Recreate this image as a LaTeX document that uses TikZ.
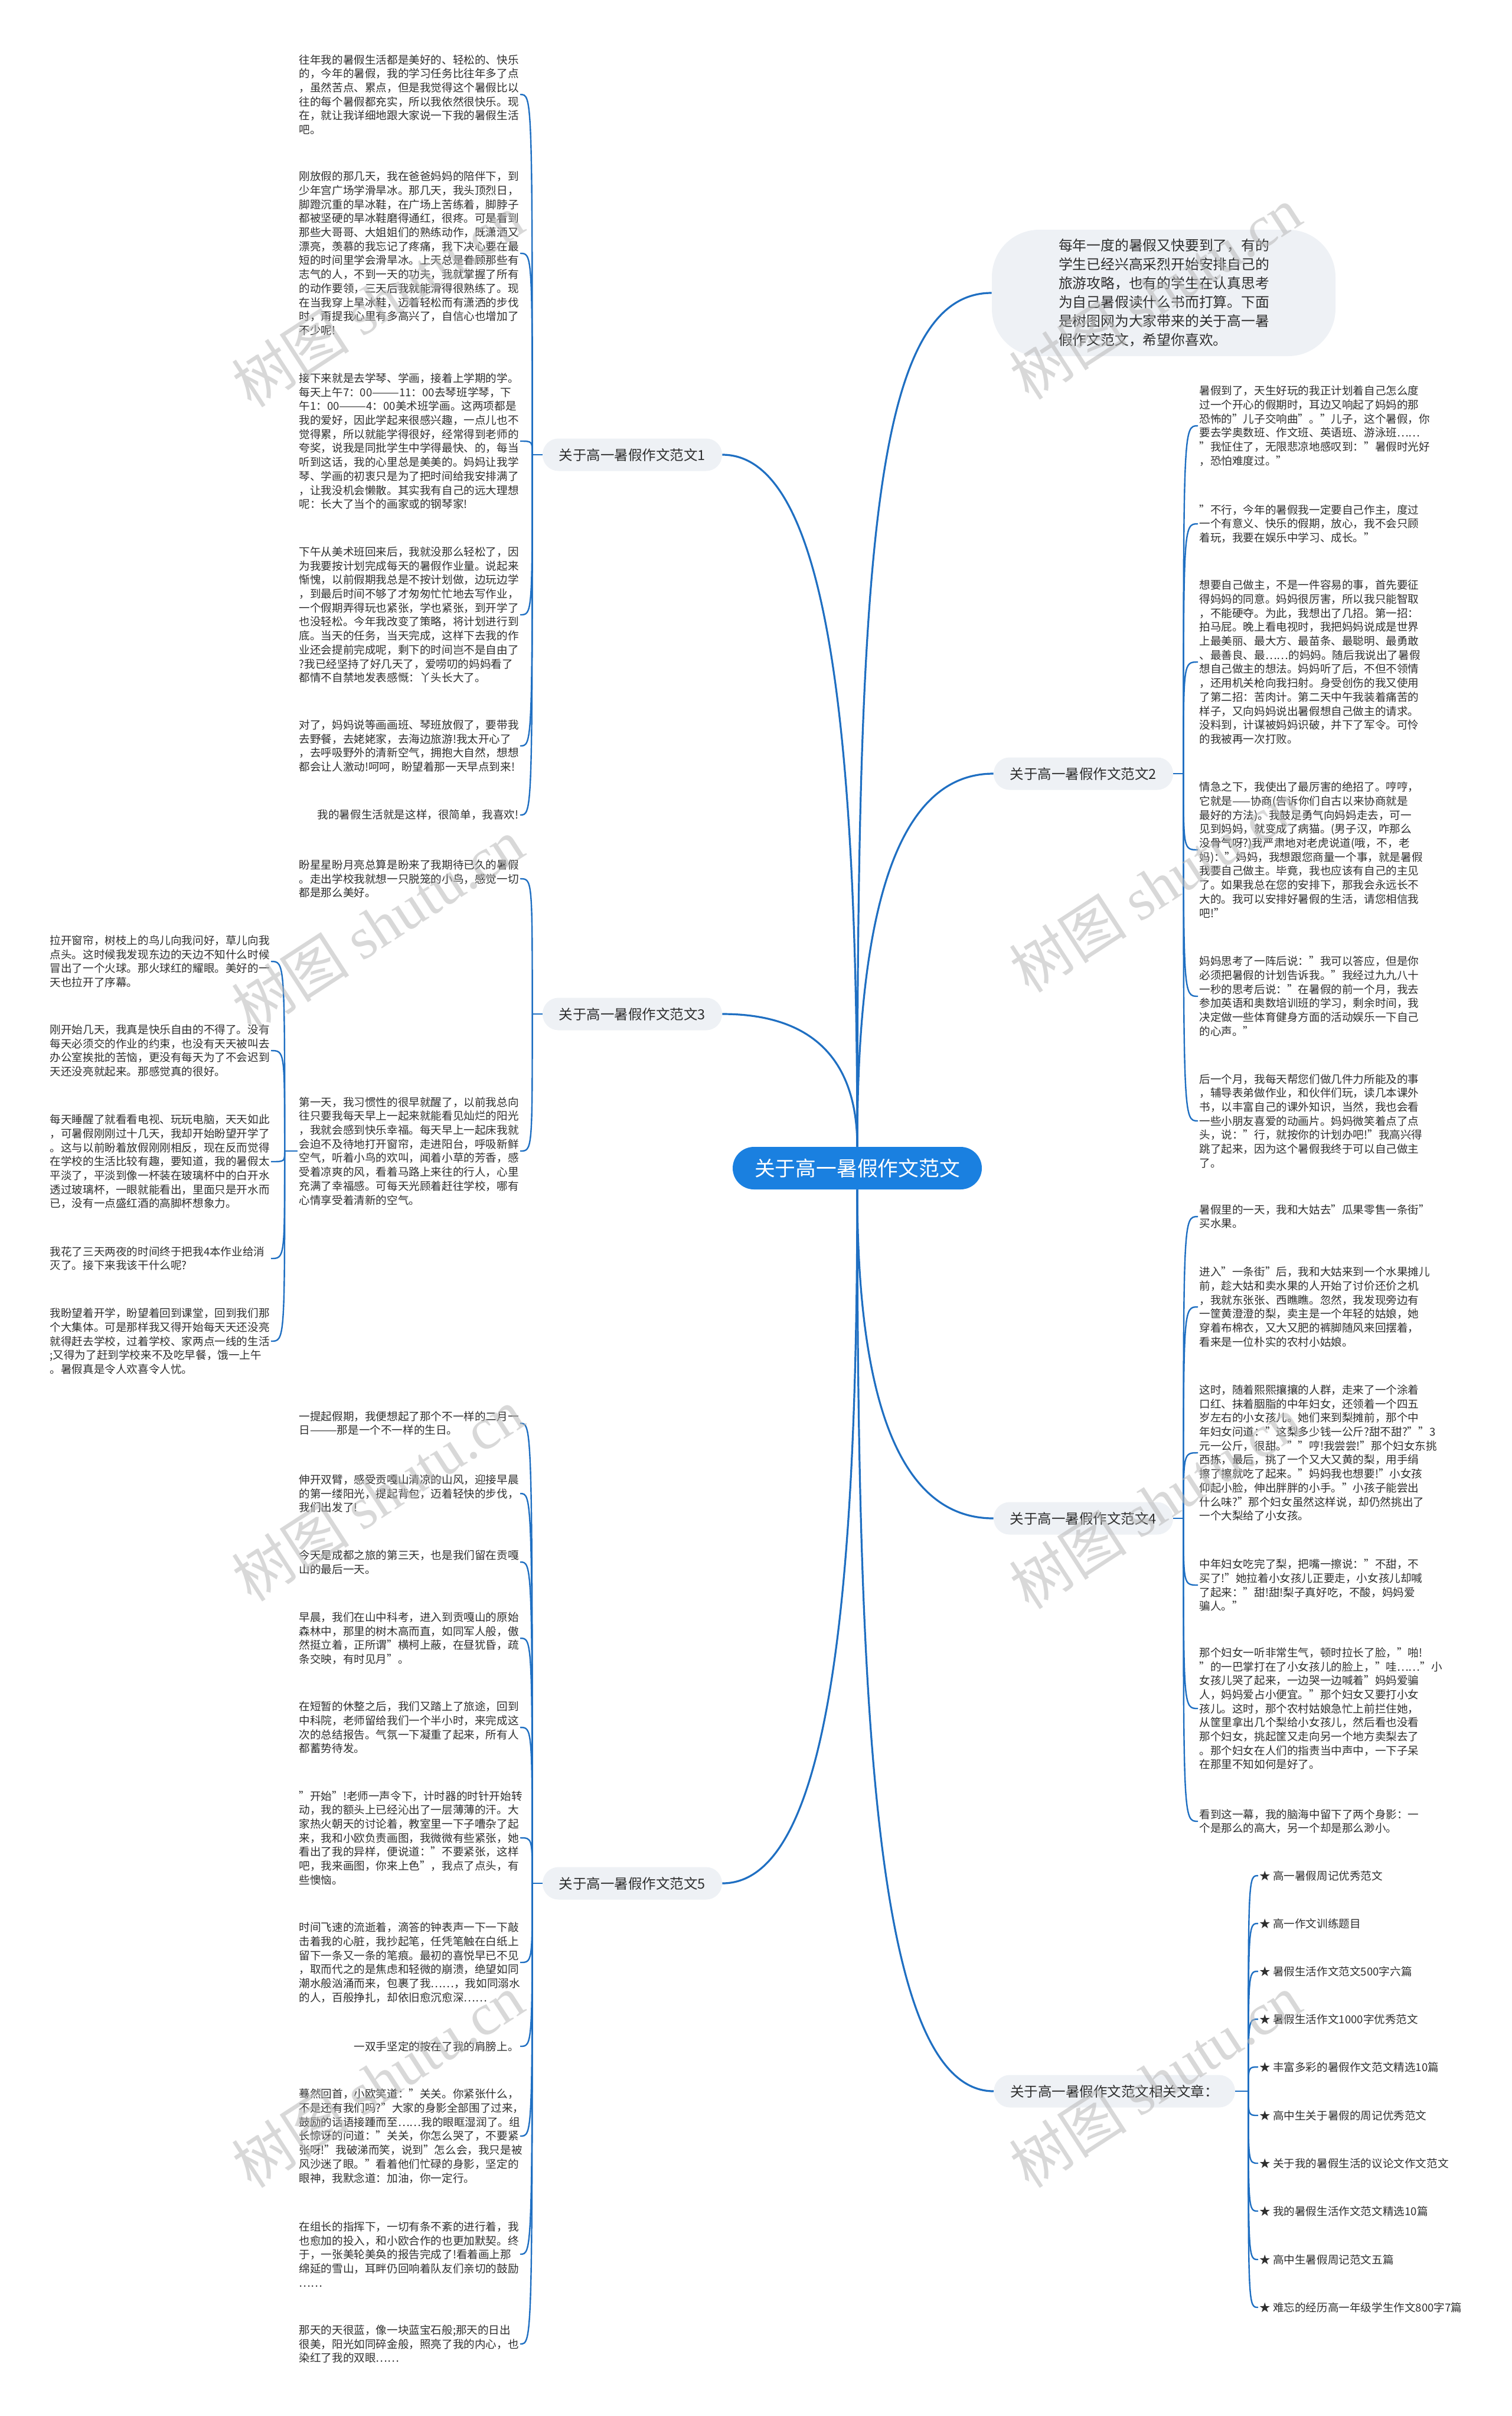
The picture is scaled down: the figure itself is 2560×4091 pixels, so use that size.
\documentclass[tikz,border=0pt]{standalone}
\usepackage{fontspec}
\setmainfont{Noto Sans CJK SC}
\newfontfamily\wmlatin{Liberation Serif}
\usepackage{tikz}
\usetikzlibrary{calc,positioning}
\definecolor{rootblue}{HTML}{1A80E0}
\definecolor{linkblue}{HTML}{1F6FC2}
\definecolor{boxgray}{HTML}{EEF1F5}
\definecolor{txtgray}{HTML}{2E2E2E}
\definecolor{markgray}{HTML}{B8B8B8}

\begin{document}
\begin{tikzpicture}[x=0.5pt,y=-0.5pt,
        conn/.style={draw=linkblue,line width=1.2pt},
        stem/.style={draw=linkblue,line width=1.6pt},
        para/.style={font=\fontsize{9.3}{11.85}\selectfont,text=txtgray,text width=186pt,align=left,inner sep=1pt},
        oneline/.style={font=\fontsize{9.3}{11.85}\selectfont,text=txtgray,inner sep=1pt},
        branch/.style={fill=boxgray,rounded corners=13.5pt,minimum height=27.5pt,inner xsep=14pt,font=\fontsize{11.75}{14}\selectfont,text=txtgray},
        wmark/.style={text=markgray,text opacity=0.55,rotate=33,font=\fontsize{50}{50}\selectfont}]
        \useasboundingbox (0,0) rectangle (2560,4091);
        \tikzstyle{lefty}=[para,anchor=east]
        \tikzstyle{righty}=[para,anchor=west]

        \node[fill=rootblue,text=white,rounded corners=18pt,minimum height=36pt,inner xsep=18.5pt,font=\fontsize{17.4}{20}\selectfont](root) at (1452,1978){关于高一暑假作文范文};

        \node[fill=boxgray,rounded corners=40pt,text width=178pt,inner xsep=56.5pt,minimum height=107pt,align=left,text=txtgray,font=\fontsize{11.9}{16}\selectfont](intro) at (1971,496){每年一度的暑假又快要到了，有的\\学生已经兴高采烈开始安排自己的\\旅游攻略，也有的学生在认真思考\\为自己暑假读什么书而打算。下面\\是树图网为大家带来的关于高一暑\\假作文范文，希望你喜欢。};

        \node[branch](lab1) at (1071,770){关于高一暑假作文范文1};
        \node[branch](lab3) at (1071,1717){关于高一暑假作文范文3};
        \node[branch](lab5) at (1071,3189){关于高一暑假作文范文5};
        \node[branch](lab2) at (1835,1310){关于高一暑假作文范文2};
        \node[branch](lab4) at (1835,2571){关于高一暑假作文范文4};
        \node[branch,anchor=west](rel) at (1683,3541){关于高一暑假作文范文相关文章：};

        \node[lefty](p1a) at (881,160){往年我的暑假生活都是美好的、轻松的、快乐\\的，今年的暑假，我的学习任务比往年多了点\\，虽然苦点、累点，但是我觉得这个暑假比以\\往的每个暑假都充实，所以我依然很快乐。现\\在，就让我详细地跟大家说一下我的暑假生活\\吧。};
        \node[lefty](p1b) at (881,429){刚放假的那几天，我在爸爸妈妈的陪伴下，到\\少年宫广场学滑旱冰。那几天，我头顶烈日，\\脚蹬沉重的旱冰鞋，在广场上苦练着，脚脖子\\都被坚硬的旱冰鞋磨得通红，很疼。可是看到\\那些大哥哥、大姐姐们的熟练动作，既潇洒又\\漂亮，羡慕的我忘记了疼痛，我下决心要在最\\短的时间里学会滑旱冰。上天总是眷顾那些有\\志气的人，不到一天的功夫，我就掌握了所有\\的动作要领，三天后我就能滑得很熟练了。现\\在当我穿上旱冰鞋，迈着轻松而有潇洒的步伐\\时，甭提我心里有多高兴了，自信心也增加了\\不少呢!};
        \node[lefty](p1c) at (881,747){接下来就是去学琴、学画，接着上学期的学。\\\mbox{每天上午7：00———11：00去琴班学琴，下}\\\mbox{午1：00———4：00美术班学画。这两项都是}\\我的爱好，因此学起来很感兴趣，一点儿也不\\觉得累，所以就能学得很好，经常得到老师的\\夸奖，说我是同批学生中学得最快、的，每当\\听到这话，我的心里总是美美的。妈妈让我学\\琴、学画的初衷只是为了把时间给我安排满了\\，让我没机会懒散。其实我有自己的远大理想\\呢：长大了当个的画家或的钢琴家!};
        \node[lefty](p1d) at (881,1041){下午从美术班回来后，我就没那么轻松了，因\\为我要按计划完成每天的暑假作业量。说起来\\惭愧，以前假期我总是不按计划做，边玩边学\\，到最后时间不够了才匆匆忙忙地去写作业，\\一个假期弄得玩也紧张，学也紧张，到开学了\\也没轻松。今年我改变了策略，将计划进行到\\底。当天的任务，当天完成，这样下去我的作\\业还会提前完成呢，剩下的时间岂不是自由了\\?我已经坚持了好几天了，爱唠叨的妈妈看了\\都情不自禁地发表感慨：丫头长大了。};
        \node[lefty](p1e) at (881,1263){对了，妈妈说等画画班、琴班放假了，要带我\\去野餐，去姥姥家，去海边旅游!我太开心了\\，去呼吸野外的清新空气，拥抱大自然，想想\\都会让人激动!呵呵，盼望着那一天早点到来!};
        \node[oneline,anchor=east](p1f) at (881,1380){我的暑假生活就是这样，很简单，我喜欢!};

        \node[lefty](p3a) at (881,1488){盼星星盼月亮总算是盼来了我期待已久的暑假\\。走出学校我就想一只脱笼的小鸟，感觉一切\\都是那么美好。};
        \node[lefty](p3b) at (881,1949){第一天，我习惯性的很早就醒了，以前我总向\\往只要我每天早上一起来就能看见灿烂的阳光\\，我就会感到快乐幸福。每天早上一起床我就\\会迫不及待地打开窗帘，走进阳台，呼吸新鲜\\空气，听着小鸟的欢叫，闻着小草的芳香，感\\受着凉爽的风，看着马路上来往的行人，心里\\充满了幸福感。可每天光顾着赶往学校，哪有\\心情享受着清新的空气。};
        \node[lefty](q1) at (459,1628){拉开窗帘，树枝上的鸟儿向我问好，草儿向我\\点头。这时候我发现东边的天边不知什么时候\\冒出了一个火球。那火球红的耀眼。美好的一\\天也拉开了序幕。};
        \node[lefty](q2) at (459,1779){刚开始几天，我真是快乐自由的不得了。没有\\每天必须交的作业的约束，也没有天天被叫去\\办公室挨批的苦恼，更没有每天为了不会迟到\\天还没亮就起来。那感觉真的很好。};
        \node[lefty](q3) at (459,1967){每天睡醒了就看看电视、玩玩电脑，天天如此\\，可暑假刚刚过十几天，我却开始盼望开学了\\。这与以前盼着放假刚刚相反，现在反而觉得\\在学校的生活比较有趣，要知道，我的暑假太\\平淡了，平淡到像一杯装在玻璃杯中的白开水\\透过玻璃杯，一眼就能看出，里面只是开水而\\已，没有一点盛红酒的高脚杯想象力。};
        \node[lefty](q4) at (459,2131){我花了三天两夜的时间终于把我4本作业给消\\灭了。接下来我该干什么呢?};
        \node[lefty](q5) at (459,2271){我盼望着开学，盼望着回到课堂，回到我们那\\个大集体。可是那样我又得开始每天天还没亮\\就得赶去学校，过着学校、家两点一线的生活\\;又得为了赶到学校来不及吃早餐，饿一上午\\。暑假真是令人欢喜令人忧。};

        \node[lefty](p5a) at (881,2410){一提起假期，我便想起了那个不一样的二月一\\日———那是一个不一样的生日。};
        \node[lefty](p5b) at (881,2529){伸开双臂，感受贡嘎山清凉的山风，迎接早晨\\的第一缕阳光，提起背包，迈着轻快的步伐，\\我们出发了!};
        \node[lefty](p5c) at (881,2645){今天是成都之旅的第三天，也是我们留在贡嘎\\山的最后一天。};
        \node[lefty](p5d) at (881,2774){早晨，我们在山中科考，进入到贡嘎山的原始\\森林中，那里的树木高而直，如同军人般，傲\\然挺立着，正所谓"横柯上蔽，在昼犹昏，疏\\条交映，有时见月"。};
        \node[lefty](p5e) at (881,2925){在短暂的休整之后，我们又踏上了旅途，回到\\中科院，老师留给我们一个半小时，来完成这\\次的总结报告。气氛一下凝重了起来，所有人\\都蓄势待发。};
        \node[lefty](p5f) at (881,3112){"开始"!老师一声令下，计时器的时针开始转\\动，我的额头上已经沁出了一层薄薄的汗。大\\家热火朝天的讨论着，教室里一下子嘈杂了起\\来，我和小欧负责画图，我微微有些紧张，她\\看出了我的异样，便说道："不要紧张，这样\\吧，我来画图，你来上色"，我点了点头，有\\些懊恼。};
        \node[lefty](p5g) at (881,3323){时间飞速的流逝着，滴答的钟表声一下一下敲\\击着我的心脏，我抄起笔，任凭笔触在白纸上\\留下一条又一条的笔痕。最初的喜悦早已不见\\，取而代之的是焦虑和轻微的崩溃，绝望如同\\潮水般汹涌而来，包裹了我……，我如同溺水\\的人，百般挣扎，却依旧愈沉愈深……};
        \node[oneline,anchor=east](p5h) at (881,3465){一双手坚定的按在了我的肩膀上。};
        \node[lefty](p5i) at (881,3617){蓦然回首，小欧笑道："关关。你紧张什么，\\不是还有我们吗?"大家的身影全部围了过来，\\鼓励的话语接踵而至……我的眼眶湿润了。组\\长惊讶的问道："关关，你怎么哭了，不要紧\\张呀!"我破涕而笑，说到"怎么会，我只是被\\风沙迷了眼。"看着他们忙碌的身影，坚定的\\眼神，我默念道：加油，你一定行。};
        \node[lefty](p5j) at (881,3817){在组长的指挥下，一切有条不紊的进行着，我\\也愈加的投入，和小欧合作的也更加默契。终\\于，一张美轮美奂的报告完成了!看着画上那\\绵延的雪山，耳畔仍回响着队友们亲切的鼓励\\……};
        \node[lefty](p5k) at (881,3969){那天的天很蓝，像一块蓝宝石般;那天的日出\\很美，阳光如同碎金般，照亮了我的内心，也\\染红了我的双眼……};

        \node[righty](p2a) at (2029,721){暑假到了，天生好玩的我正计划着自己怎么度\\过一个开心的假期时，耳边又响起了妈妈的那\\恐怖的"儿子交响曲"。"儿子，这个暑假，你\\要去学奥数班、作文班、英语班、游泳班……\\"我怔住了，无限悲凉地感叹到："暑假时光好\\，恐怕难度过。"};
        \node[righty](p2b) at (2029,887){"不行，今年的暑假我一定要自己作主，度过\\一个有意义、快乐的假期，放心，我不会只顾\\着玩，我要在娱乐中学习、成长。"};
        \node[righty](p2c) at (2029,1121){想要自己做主，不是一件容易的事，首先要征\\得妈妈的同意。妈妈很厉害，所以我只能智取\\，不能硬夺。为此，我想出了几招。第一招：\\拍马屁。晚上看电视时，我把妈妈说成是世界\\上最美丽、最大方、最苗条、最聪明、最勇敢\\、最善良、最……的妈妈。随后我说出了暑假\\想自己做主的想法。妈妈听了后，不但不领情\\，还用机关枪向我扫射。身受创伤的我又使用\\了第二招：苦肉计。第二天中午我装着痛苦的\\样子，又向妈妈说出暑假想自己做主的请求。\\没料到，计谋被妈妈识破，并下了军令。可怜\\的我被再一次打败。};
        \node[righty](p2d) at (2029,1439){情急之下，我使出了最厉害的绝招了。哼哼，\\\mbox{它就是——协商(告诉你们自古以来协商就是}\\最好的方法)。我鼓足勇气向妈妈走去，可一\\见到妈妈，就变成了病猫。(男子汉，咋那么\\没骨气呀?)我严肃地对老虎说道(哦，不，老\\妈)："妈妈，我想跟您商量一个事，就是暑假\\我要自己做主。毕竟，我也应该有自己的主见\\了。如果我总在您的安排下，那我会永远长不\\大的。我可以安排好暑假的生活，请您相信我\\吧!"};
        \node[righty](p2e) at (2029,1687){妈妈思考了一阵后说："我可以答应，但是你\\必须把暑假的计划告诉我。"我经过九九八十\\一秒的思考后说："在暑假的前一个月，我去\\参加英语和奥数培训班的学习，剩余时间，我\\决定做一些体育健身方面的活动娱乐一下自己\\的心声。"};
        \node[righty](p2f) at (2029,1898){后一个月，我每天帮您们做几件力所能及的事\\，辅导表弟做作业，和伙伴们玩，读几本课外\\书，以丰富自己的课外知识，当然，我也会看\\一些小朋友喜爱的动画片。妈妈微笑着点了点\\头，说："行，就按你的计划办吧!"我高兴得\\跳了起来，因为这个暑假我终于可以自己做主\\了。};

        \node[righty](p4a) at (2029,2060){暑假里的一天，我和大姑去"瓜果零售一条街"\\买水果。};
        \node[righty](p4b) at (2029,2213){进入"一条街"后，我和大姑来到一个水果摊儿\\前，趁大姑和卖水果的人开始了讨价还价之机\\，我就东张张、西瞧瞧。忽然，我发现旁边有\\一筐黄澄澄的梨，卖主是一个年轻的姑娘，她\\穿着布棉衣，又大又肥的裤脚随风来回摆着，\\看来是一位朴实的农村小姑娘。};
        \node[righty](p4c) at (2029,2460){这时，随着熙熙攘攘的人群，走来了一个涂着\\口红、抹着胭脂的中年妇女，还领着一个四五\\岁左右的小女孩儿。她们来到梨摊前，那个中\\年妇女问道："这梨多少钱一公斤?甜不甜?""3\\元一公斤，很甜。""哼!我尝尝!"那个妇女东挑\\西拣，最后，挑了一个又大又黄的梨，用手绢\\擦了擦就吃了起来。"妈妈我也想要!"小女孩\\仰起小脸，伸出胖胖的小手。"小孩子能尝出\\什么味?"那个妇女虽然这样说，却仍然挑出了\\一个大梨给了小女孩。};
        \node[righty](p4d) at (2029,2684){中年妇女吃完了梨，把嘴一擦说："不甜，不\\买了!"她拉着小女孩儿正要走，小女孩儿却喊\\了起来："甜!甜!梨子真好吃，不酸，妈妈爱\\骗人。"};
        \node[righty](p4e) at (2029,2893){那个妇女一听非常生气，顿时拉长了脸，"啪!\\"的一巴掌打在了小女孩儿的脸上，"哇……"小\\女孩儿哭了起来，一边哭一边喊着"妈妈爱骗\\人，妈妈爱占小便宜。"那个妇女又要打小女\\孩儿。这时，那个农村姑娘急忙上前拦住她，\\从筐里拿出几个梨给小女孩儿，然后看也没看\\那个妇女，挑起筐又走向另一个地方卖梨去了\\。那个妇女在人们的指责当中声中，一下子呆\\在那里不知如何是好了。};
        \node[righty](p4f) at (2029,3084){看到这一幕，我的脑海中留下了两个身影：一\\个是那么的高大，另一个却是那么渺小。};

        \node[oneline,anchor=west](r1) at (2131,3176){★ 高一暑假周记优秀范文};
        \node[oneline,anchor=west](r2) at (2131,3257){★ 高一作文训练题目};
        \node[oneline,anchor=west](r3) at (2131,3338){★ 暑假生活作文范文500字六篇};
        \node[oneline,anchor=west](r4) at (2131,3419){★ 暑假生活作文1000字优秀范文};
        \node[oneline,anchor=west](r5) at (2131,3500){★ 丰富多彩的暑假作文范文精选10篇};
        \node[oneline,anchor=west](r6) at (2131,3582){★ 高中生关于暑假的周记优秀范文};
        \node[oneline,anchor=west](r7) at (2131,3663){★ 关于我的暑假生活的议论文作文范文};
        \node[oneline,anchor=west](r8) at (2131,3744){★ 我的暑假生活作文范文精选10篇};
        \node[oneline,anchor=west](r9) at (2131,3826){★ 高中生暑假周记范文五篇};
        \node[oneline,anchor=west](r10) at (2131,3907){★ 难忘的经历高一年级学生作文800字7篇};

        \draw[stem] (root.north) .. controls +(0,-1000) and +(-200,0) .. (intro.west);
        \draw[stem] (root.north) .. controls +(0,-700) and +(180,0) .. (lab1.east);
        \draw[stem] (root.north) .. controls +(0,-150) and +(150,0) .. (lab3.east);
        \draw[stem] (root.north) .. controls +(0,-350) and +(-180,0) .. (lab2.west);
        \draw[stem] (root.south) .. controls +(0,300) and +(-180,0) .. (lab4.west);
        \draw[stem] (root.south) .. controls +(0,700) and +(180,0) .. (lab5.east);
        \draw[stem] (root.south) .. controls +(0,900) and +(-200,0) .. (rel.west);

        \draw[conn] (lab1.west) -- ++(-17,0) coordinate (j1);
        \foreach \n in {p1a,p1b,p1c,p1d,p1e,p1f}
            \draw[conn] (j1) .. controls (j1 |- \n.east) and (j1 |- \n.east) .. (\n.east);
        \draw[conn] (lab3.west) -- ++(-17,0) coordinate (j3);
        \foreach \n in {p3a,p3b}
            \draw[conn] (j3) .. controls (j3 |- \n.east) and (j3 |- \n.east) .. (\n.east);
        \draw[conn] (p3b.west) -- ++(-22,0) coordinate (j3b);
        \foreach \n in {q1,q2,q3,q4,q5}
            \draw[conn] (j3b) .. controls (j3b |- \n.east) and (j3b |- \n.east) .. (\n.east);
        \draw[conn] (lab5.west) -- ++(-17,0) coordinate (j5);
        \foreach \n in {p5a,p5b,p5c,p5d,p5e,p5f,p5g,p5h,p5i,p5j,p5k}
            \draw[conn] (j5) .. controls (j5 |- \n.east) and (j5 |- \n.east) .. (\n.east);
        \draw[conn] (lab2.east) -- ++(17,0) coordinate (j2);
        \foreach \n in {p2a,p2b,p2c,p2d,p2e,p2f}
            \draw[conn] (j2) .. controls (j2 |- \n.west) and (j2 |- \n.west) .. (\n.west);
        \draw[conn] (lab4.east) -- ++(17,0) coordinate (j4);
        \foreach \n in {p4a,p4b,p4c,p4d,p4e,p4f}
            \draw[conn] (j4) .. controls (j4 |- \n.west) and (j4 |- \n.west) .. (\n.west);
        \draw[conn] (rel.east) -- ++(22,0) coordinate (jr);
        \foreach \n in {r1,r2,r3,r4,r5,r6,r7,r8,r9,r10}
            \draw[conn] (jr) .. controls (jr |- \n.west) and (jr |- \n.west) .. (\n.west);

        \foreach \wx/\wy in {640/509,640/1566,640/2531,640/3523,1957/496,1957/1500,1957/2544,1957/3523}
            \node[wmark] at (\wx,\wy){树图 {\wmlatin shutu.cn}};
\end{tikzpicture}
\end{document}
